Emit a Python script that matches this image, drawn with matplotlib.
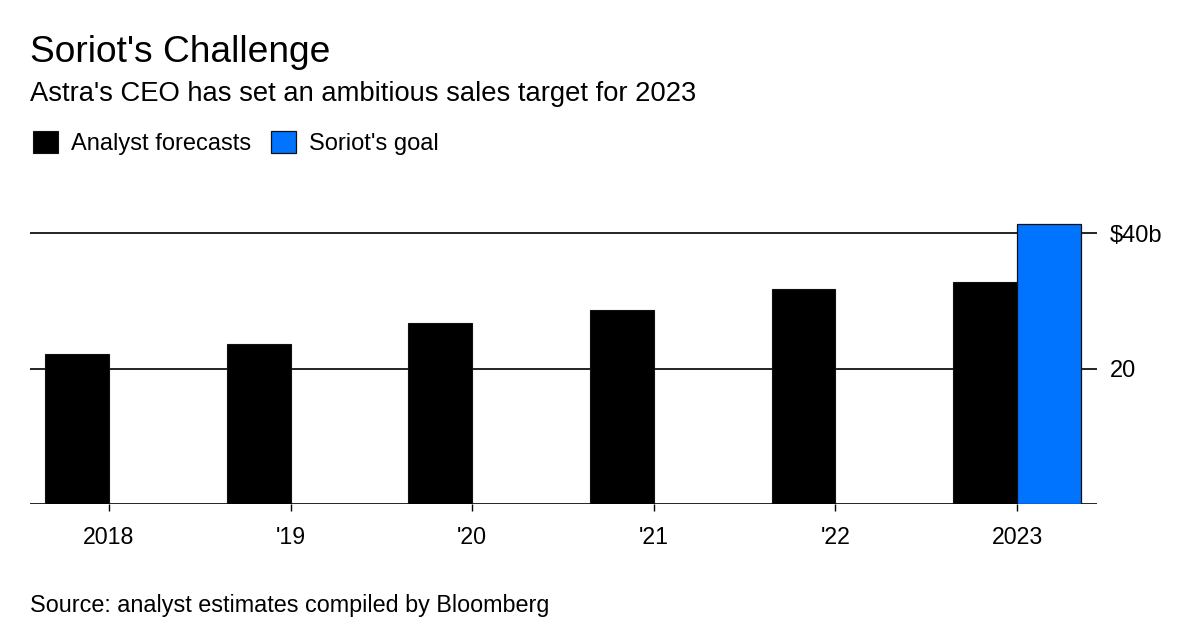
import numpy as np
import matplotlib
matplotlib.use("Agg")
import matplotlib.pyplot as plt
from matplotlib.patches import Patch

plt.rcParams['font.family'] = ['Liberation Sans', 'DejaVu Sans']

years = ['2018', "'19", "'20", "'21", "'22", '2023']
analyst = [22.2, 23.6, 26.7, 28.7, 31.7, 32.8]
goal = [np.nan, np.nan, np.nan, np.nan, np.nan, 41.3]
yticks = [0, 20, 40]
ylabels = ['', '20', '$40b']

BLACK = '#000000'
BLUE = '#0073FF'

W, H = 1200, 637
fig = plt.figure(figsize=(W / 100, H / 100), dpi=100)
ax = fig.add_axes([30 / W, (H - 504) / H, 1067 / W, (504 - 219.45) / H])

x = np.arange(len(years))
w = 0.352
ax.bar(x - w / 2, analyst, w, color=BLACK, edgecolor='#111111', linewidth=0.8, zorder=3)
ax.bar(x + w / 2, goal, w, color=BLUE, edgecolor='#111111', linewidth=0.9, zorder=3)

ax.set_xlim(-0.435, 5.44)
ax.set_ylim(0, 42)
for s in ax.spines.values():
    s.set_visible(False)

ax.set_yticks(yticks)
ax.set_yticklabels(ylabels)
ax.yaxis.tick_right()
ax.tick_params(axis='y', length=0, pad=9.4, labelsize=17, colors='black')
ax.yaxis.grid(True, color='black', linewidth=1.2, zorder=1)
ax.set_axisbelow(True)

ax.set_xticks(x)
ax.set_xticklabels(years)
ax.tick_params(axis='x', length=5, width=1.0, pad=10.5, labelsize=16.7, colors='black')

fig.text(30 / W, 1 - 62 / H, "Soriot's Challenge", fontsize=26.7, va='baseline', ha='left')
fig.text(30 / W, 1 - 101 / H, "Astra's CEO has set an ambitious sales target for 2023",
         fontsize=19.7, va='baseline', ha='left')
fig.text(30 / W, 1 - 612 / H, "Source: analyst estimates compiled by Bloomberg",
         fontsize=16.8, va='baseline', ha='left')

handles = [Patch(facecolor=BLACK, edgecolor='#111111', linewidth=0.8, label='Analyst forecasts'),
           Patch(facecolor=BLUE, edgecolor='#111111', linewidth=0.9, label="Soriot's goal")]
fig.legend(handles=handles, loc='upper left', bbox_to_anchor=(32.7 / W, 1 - 131 / H),
           ncol=2, frameon=False, fontsize=17, handlelength=1.06, handleheight=1.06,
           handletextpad=0.55, columnspacing=0.85, borderpad=0, borderaxespad=0)

fig.savefig('out.png', dpi=100)
